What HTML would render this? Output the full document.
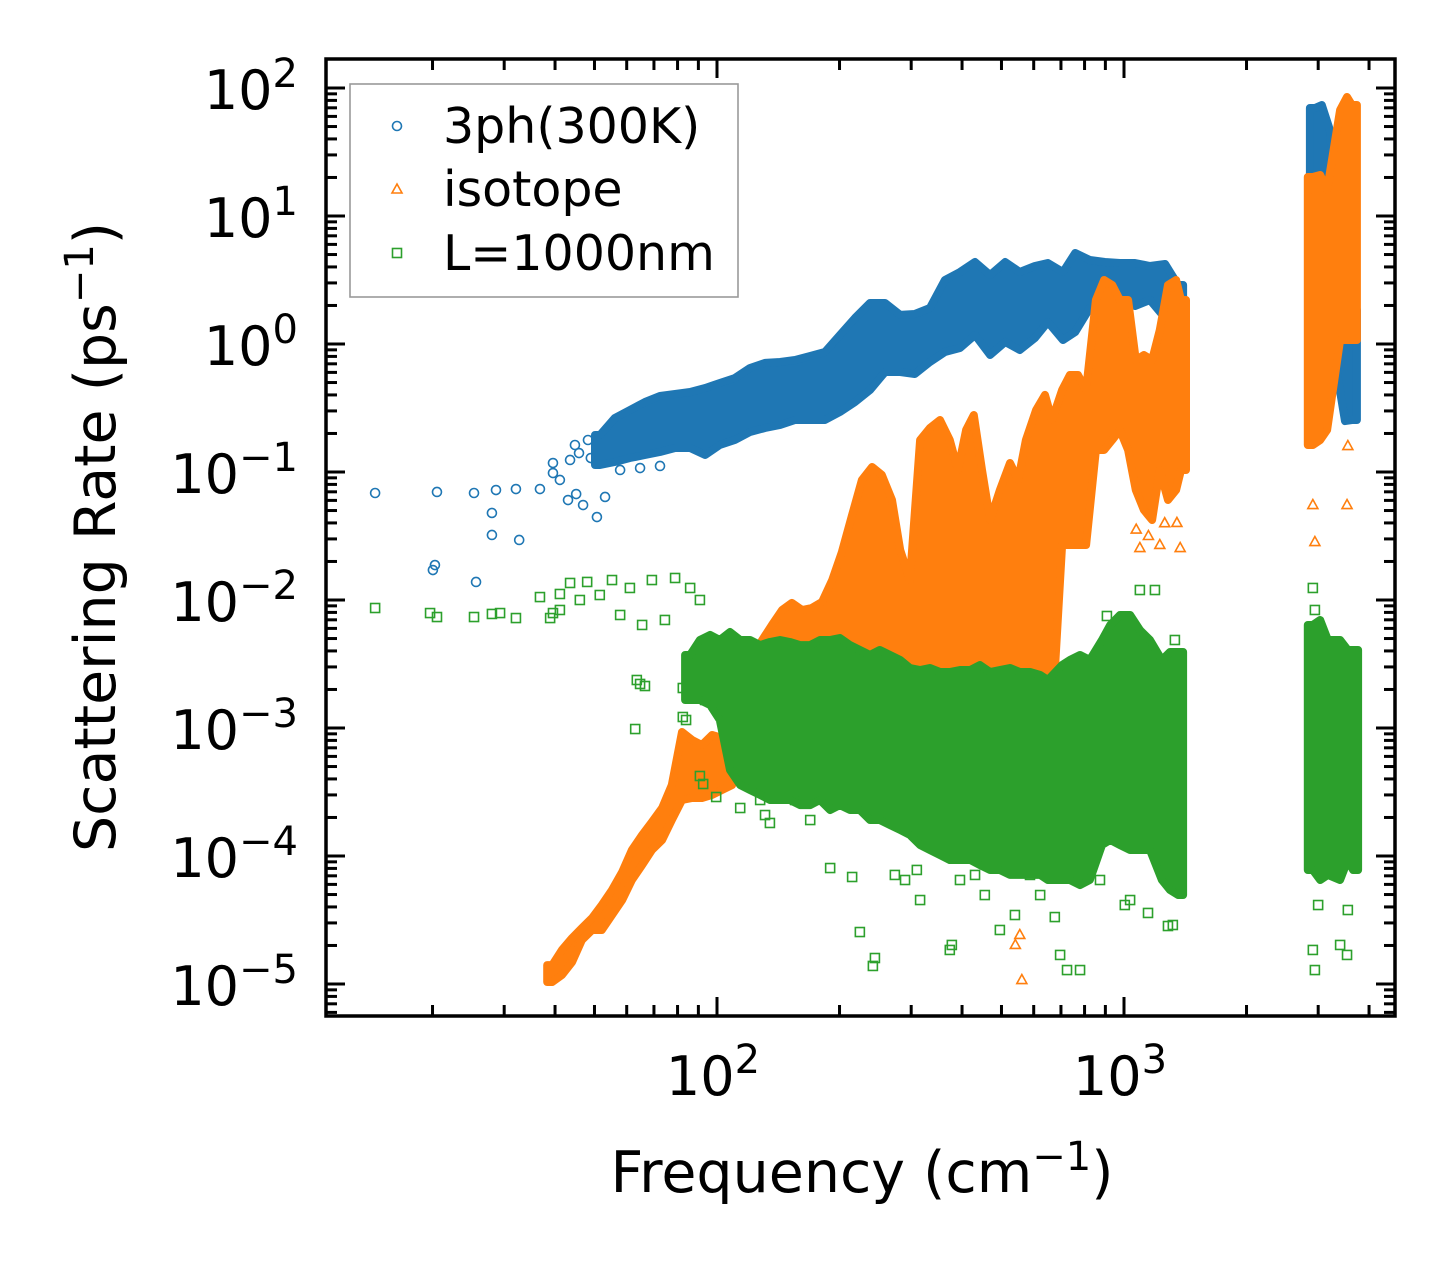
<!DOCTYPE html>
<html><head><meta charset="utf-8">
<style>
html,body{margin:0;padding:0;background:#fff;}
svg{display:block;font-family:"DejaVu Sans","Liberation Sans",sans-serif;}
</style></head>
<body>
<svg id="chart" xmlns="http://www.w3.org/2000/svg" width="1455" height="1265" viewBox="0 0 1455 1265">
<rect x="0" y="0" width="1455" height="1265" fill="#fff"/>
<g id="marks"></g>
<g id="axes"></g>
<g id="legend">
  <rect x="350" y="84" width="388" height="213" fill="#fff" fill-opacity="0.85" stroke="#999" stroke-width="1.6"/>
  <circle cx="397" cy="126" r="4.5" fill="none" stroke="#1f77b4" stroke-width="1.6"/>
  <text x="443" y="143" font-size="49" fill="#000">3ph(300K)</text>
  <path d="M397,184 L402,193 L392,193 Z" fill="none" stroke="#ff7f0e" stroke-width="1.6"/>
  <text x="443" y="206" font-size="49" fill="#000">isotope</text>
  <rect x="392.5" y="248.5" width="9" height="9" fill="none" stroke="#2ca02c" stroke-width="1.6"/>
  <text x="443" y="270" font-size="49" fill="#000">L=1000nm</text>
</g>
<text x="862" y="1192" font-size="57" text-anchor="middle" fill="#000">Frequency (cm<tspan dy="-22" font-size="40">−1</tspan><tspan dy="22">)</tspan></text>
<text transform="translate(115,537) rotate(-90)" font-size="57" text-anchor="middle" fill="#000">Scattering Rate (ps<tspan dy="-22" font-size="40">−1</tspan><tspan dy="22">)</tspan></text>
</svg>
<script>
// ---- data (log10 frequency in cm^-1, log10 rate in ps^-1) ----
// 3ph(300K) dense band columns
const phBandF  = [1.7125,1.749,1.786,1.823,1.860,1.897,1.934,1.971,2.007,2.044,2.081,2.118,2.155,2.192,2.229,2.265,2.302,2.339,2.376,2.413,2.450,2.486,2.523,2.560,2.597,2.634,2.671,2.708,2.744,2.781,2.813,2.850,2.880,2.916,2.953,2.990,3.027,3.064,3.101,3.133,3.469,3.486,3.506,3.543,3.560];
const phBandHi = [-0.711,-0.578,-0.516,-0.453,-0.406,-0.391,-0.375,-0.344,-0.305,-0.266,-0.1875,-0.148,-0.141,-0.125,-0.094,-0.0625,0.070,0.203,0.320,0.320,0.227,0.234,0.281,0.5,0.5625,0.641,0.539,0.641,0.5625,0.609,0.633,0.5625,0.711,0.656,0.641,0.633,0.633,0.609,0.625,0.461,1.844,1.867,1.672,0.289,0.266];
const phBandLo = [-0.945,-0.922,-0.891,-0.867,-0.844,-0.8125,-0.8125,-0.867,-0.789,-0.75,-0.6875,-0.656,-0.633,-0.594,-0.594,-0.594,-0.531,-0.453,-0.359,-0.219,-0.219,-0.234,-0.141,-0.0625,-0.031,0.070,-0.086,0.016,-0.047,0.047,0.172,0.031,0.094,0.281,0.25,0.359,0.297,0.344,0.203,0.227,0.109,0.109,0.109,-0.602,-0.594];
// 3ph(300K) isolated points
const phPtF = [1.160,1.312,1.403,1.457,1.506,1.302,1.307,1.408,1.447,1.447,1.514,1.565,1.597,1.597,1.614,1.639,1.634,1.654,1.671,1.705,1.725,1.651,1.683,1.690,1.661,1.762,1.811,1.860];
const phPtR = [-1.164,-1.156,-1.164,-1.141,-1.133,-1.766,-1.727,-1.859,-1.320,-1.492,-1.531,-1.133,-0.930,-1.008,-1.062,-0.906,-1.219,-1.172,-1.258,-1.352,-1.195,-0.789,-0.750,-0.891,-0.852,-0.984,-0.969,-0.953];

// isotope dense band columns
const isoBandF  = [1.595,1.619,1.644,1.668,1.693,1.717,1.742,1.767,1.791,1.816,1.840,1.865,1.889,1.914,1.939,1.963,1.988,2.012,2.037,2.061,2.086,2.111,2.135,2.160,2.184,2.209,2.233,2.258,2.283,2.307,2.332,2.356,2.381,2.405,2.430,2.450,2.474,2.499,2.523,2.548,2.572,2.592,2.612,2.631,2.651,2.671,2.695,2.720,2.740,2.759,2.784,2.806,2.823,2.848,2.867,2.887,2.907,2.931,2.951,2.971,2.990,3.010,3.029,3.049,3.069,3.088,3.108,3.128,3.140,3.464,3.482,3.499,3.531,3.548,3.560];
const isoBandHi = [-4.852,-4.734,-4.641,-4.5625,-4.484,-4.383,-4.266,-4.125,-3.953,-3.836,-3.734,-3.625,-3.445,-3.031,-3.094,-3.133,-3.055,-3.078,-2.898,-2.703,-2.469,-2.3125,-2.195,-2.078,-2.023,-2.078,-2.0625,-2.016,-1.844,-1.625,-1.336,-1.0625,-0.961,-1.023,-1.219,-1.609,-1.844,-0.75,-0.656,-0.594,-0.75,-0.984,-0.672,-0.555,-0.984,-1.375,-1.141,-0.930,-1.0625,-0.75,-0.516,-0.398,-0.594,-0.359,-0.242,-0.242,-0.359,0.344,0.5,0.461,0.344,0.344,-0.125,-0.086,-0.125,0.109,0.461,0.5,0.344,1.305,1.320,1.203,1.828,1.930,1.867];
const isoBandLo = [-4.984,-4.930,-4.828,-4.656,-4.578,-4.578,-4.461,-4.344,-4.1875,-4.070,-3.953,-3.875,-3.719,-3.5625,-3.547,-3.547,-3.523,-3.484,-3.445,-3.25,-3.094,-2.9375,-2.9375,-2.9375,-2.9375,-2.9375,-2.9375,-2.9375,-2.9375,-2.9375,-2.9375,-2.9375,-2.9375,-2.9375,-2.9375,-2.9375,-2.9375,-2.9375,-2.9375,-2.9375,-2.9375,-2.9375,-2.9375,-2.9375,-2.9375,-2.9375,-2.9375,-2.9375,-2.9375,-2.9375,-2.9375,-2.9375,-2.9375,-1.570,-1.570,-1.570,-1.570,-0.828,-0.828,-0.75,-0.672,-0.828,-1.141,-1.297,-1.375,-0.984,-1.219,-1.141,-0.984,-0.789,-0.750,-0.672,0.031,0.031,0.031];
// isotope isolated points
const isoPtF = [3.130,3.088,3.039,3.138,3.464,3.469,3.548,3.550,2.744,2.749,2.733,3.030,3.060,3.100];
const isoPtR = [-1.398,-1.570,-1.594,-1.594,-1.258,-1.547,-1.258,-0.797,-4.617,-4.969,-4.695,-1.45,-1.50,-1.40];

// L=1000nm dense band columns
const bdBandF  = [1.934,1.958,1.983,2.007,2.032,2.057,2.081,2.106,2.130,2.155,2.179,2.204,2.229,2.253,2.278,2.302,2.327,2.351,2.376,2.400,2.425,2.450,2.474,2.499,2.523,2.548,2.572,2.597,2.622,2.646,2.671,2.695,2.720,2.744,2.769,2.794,2.813,2.848,2.867,2.892,2.916,2.946,2.966,2.990,3.015,3.039,3.064,3.093,3.113,3.133,3.464,3.482,3.501,3.531,3.550,3.563];
const bdBandHi = [-2.430,-2.3125,-2.273,-2.3125,-2.25,-2.3125,-2.3125,-2.352,-2.328,-2.3125,-2.328,-2.352,-2.352,-2.3125,-2.3125,-2.297,-2.352,-2.391,-2.430,-2.391,-2.430,-2.469,-2.531,-2.547,-2.531,-2.5625,-2.5625,-2.547,-2.547,-2.508,-2.5625,-2.547,-2.531,-2.5625,-2.5625,-2.586,-2.625,-2.508,-2.469,-2.430,-2.469,-2.3125,-2.195,-2.117,-2.117,-2.234,-2.3125,-2.469,-2.406,-2.406,-2.195,-2.156,-2.3125,-2.3125,-2.391,-2.391];
const bdBandLo = [-2.781,-2.781,-2.820,-2.9375,-3.328,-3.445,-3.484,-3.523,-3.5625,-3.5625,-3.5625,-3.602,-3.602,-3.5625,-3.641,-3.602,-3.641,-3.641,-3.719,-3.719,-3.758,-3.797,-3.836,-3.914,-3.953,-3.992,-4.031,-4.031,-4.031,-4.070,-4.109,-4.109,-4.148,-4.148,-4.148,-4.148,-4.1875,-4.1875,-4.1875,-4.227,-4.1875,-3.914,-3.875,-3.914,-3.953,-3.953,-3.953,-4.1875,-4.266,-4.305,-4.109,-4.1875,-4.148,-4.1875,-4.031,-4.109];
// L=1000nm isolated points
const bdPtF = [1.160,1.295,1.312,1.403,1.447,1.467,1.506,1.565,1.590,1.597,1.614,1.639,1.681,1.712,1.742,1.786,1.840,1.897,1.816,1.872,1.614,1.663,1.762,1.934,1.958,1.803,1.811,1.823,1.916,1.924,1.799,1.916,1.971,1.958,1.966,1.998,2.057,2.118,2.130,2.106,2.192,2.229,2.278,2.332,2.351,2.383,2.388,2.437,2.462,2.491,2.499,2.572,2.577,2.597,2.634,2.658,2.695,2.732,2.769,2.794,2.830,2.843,2.860,2.892,2.941,3.002,3.059,3.108,3.120,3.015,3.039,3.076,2.958,3.125,3.464,3.469,3.531,3.548,3.477,3.550,3.464,3.469];
const bdPtR = [-2.0625,-2.102,-2.133,-2.133,-2.109,-2.102,-2.141,-1.977,-2.141,-2.102,-1.953,-1.867,-1.859,-1.961,-1.844,-1.906,-1.844,-1.828,-2.195,-2.156,-2.078,-2.0,-2.117,-1.906,-2.0,-2.625,-2.656,-2.672,-2.914,-2.9375,-3.008,-2.6875,-2.781,-3.375,-3.4375,-3.539,-3.625,-3.680,-3.742,-3.5625,-3.5625,-3.719,-4.094,-4.164,-4.594,-4.859,-4.797,-4.148,-4.1875,-4.109,-4.344,-4.734,-4.695,-4.1875,-4.148,-4.305,-4.578,-4.461,-4.148,-4.305,-4.477,-4.773,-4.891,-4.891,-4.1875,-4.383,-4.445,-4.547,-4.539,-4.344,-1.922,-1.922,-2.125,-2.3125,-4.734,-4.891,-4.695,-4.773,-4.383,-4.422,-1.906,-2.078];

// tick labels
const xMajorExp = [2, 3];
const yMajorExp = [2, 1, 0, -1, -2, -3, -4, -5];

// ---- axes functions ----
const PL = 326, PR = 1395, PT = 59, PB = 1016;
const X0 = 717, XDEC = 407;
const Y0 = 88, YDEC = 128;
function xs(lf){ return X0 + (lf - 2) * XDEC; }
function ys(lr){ return Y0 - (lr - 2) * YDEC; }
const NS = 'http://www.w3.org/2000/svg';
const marks = document.getElementById('marks');
const axes = document.getElementById('axes');
function mk(tag, attrs, parent){
  const e = document.createElementNS(NS, tag);
  for (const k in attrs) e.setAttribute(k, attrs[k]);
  parent.appendChild(e);
  return e;
}
const clip = mk('clipPath', {id:'pc'}, marks);
mk('rect', {x:PL, y:PT, width:PR-PL, height:PB-PT}, clip);
marks.setAttribute('clip-path', 'url(#pc)');

function drawBand(F, Hi, Lo, color, name){
  const g = mk('g', {fill:color, stroke:color, 'stroke-width':8, 'stroke-linejoin':'round'}, marks);
  
  
  // split into contiguous segments
  const segs = [];
  let cur = [0];
  for (let i = 1; i < F.length; i++){
    if (F[i] - F[i-1] > 0.06){ segs.push(cur); cur = []; }
    cur.push(i);
  }
  segs.push(cur);
  segs.forEach(seg => {
    const top = [], bot = [];
    const first = seg[0], last = seg[seg.length - 1];
    top.push([xs(F[first]) - 5, ys(Hi[first])]);
    seg.forEach(i => { top.push([xs(F[i]), ys(Hi[i])]); bot.push([xs(F[i]), ys(Lo[i])]); });
    top.push([xs(F[last]) + 5, ys(Hi[last])]);
    bot.push([xs(F[last]) + 5, ys(Lo[last])]);
    bot.unshift([xs(F[first]) - 5, ys(Lo[first])]);
    const pts = top.concat(bot.reverse()).map(p => p[0].toFixed(1) + ',' + p[1].toFixed(1)).join(' ');
    const p = mk('polygon', {points:pts}, g);
    
    
  });
}
function drawPts(F, R, kind, color, name){
  const g = mk('g', {fill:'none', stroke:color, 'stroke-width':1.6}, marks);
  
  
  for (let i = 0; i < F.length; i++){
    const x = xs(F[i]), y = ys(R[i]);
    let e;
    if (kind === 'circle') e = mk('circle', {cx:x, cy:y, r:4.5}, g);
    else if (kind === 'tri') e = mk('path', {d:`M${x},${y-5.5} L${x+5},${y+3.5} L${x-5},${y+3.5} Z`}, g);
    else e = mk('rect', {x:x-4.5, y:y-4.5, width:9, height:9}, g);
    
    
  }
}
drawBand(phBandF, phBandHi, phBandLo, '#1f77b4', 'three-phonon');
drawPts(phPtF, phPtR, 'circle', '#1f77b4', 'three-phonon');
drawBand(isoBandF, isoBandHi, isoBandLo, '#ff7f0e', 'isotope');
drawPts(isoPtF, isoPtR, 'tri', '#ff7f0e', 'isotope');
drawBand(bdBandF, bdBandHi, bdBandLo, '#2ca02c', 'boundary');
drawPts(bdPtF, bdPtR, 'square', '#2ca02c', 'boundary');

// ---- frame & ticks ----
const tg = mk('g', {stroke:'#000', 'stroke-width':3}, axes);


for (let d = 1; d <= 3; d++){
  for (let m = 1; m <= 9; m++){
    const x = xs(d + Math.log10(m));
    if (x < PL + 2 || x > PR - 2) continue;
    const len = m === 1 ? 19 : 11;
    mk('line', {x1:x, y1:PB, x2:x, y2:PB - len}, tg);
    mk('line', {x1:x, y1:PT, x2:x, y2:PT + len}, tg);
  }
}
for (let d = -6; d <= 2; d++){
  for (let m = 1; m <= 9; m++){
    const y = ys(d + Math.log10(m));
    if (y < PT + 2 || y > PB - 2) continue;
    const len = m === 1 ? 19 : 11;
    mk('line', {x1:PL, y1:y, x2:PL + len, y2:y}, tg);
    mk('line', {x1:PR, y1:y, x2:PR - len, y2:y}, tg);
  }
}
const frame = mk('rect', {x:PL, y:PT, width:PR-PL, height:PB-PT, fill:'none', stroke:'#000', 'stroke-width':3.5}, axes);



function expLabel(txt, exp, x, y, anchor, name){
  const t = mk('text', {x:x, y:y, 'font-size':54, 'text-anchor':anchor, fill:'#000'}, axes);
  
  
  t.appendChild(document.createTextNode(txt));
  const s = mk('tspan', {dy:-22, 'font-size':40}, t);
  s.textContent = exp < 0 ? '\u2212' + (-exp) : String(exp);
}
xMajorExp.forEach(e => expLabel('10', e, xs(e) - 4, 1095, 'middle', 'x-tick-label'));
yMajorExp.forEach(e => expLabel('10', e, 298, ys(e) + 21, 'end', 'y-tick-label'));
</script>
</body></html>
